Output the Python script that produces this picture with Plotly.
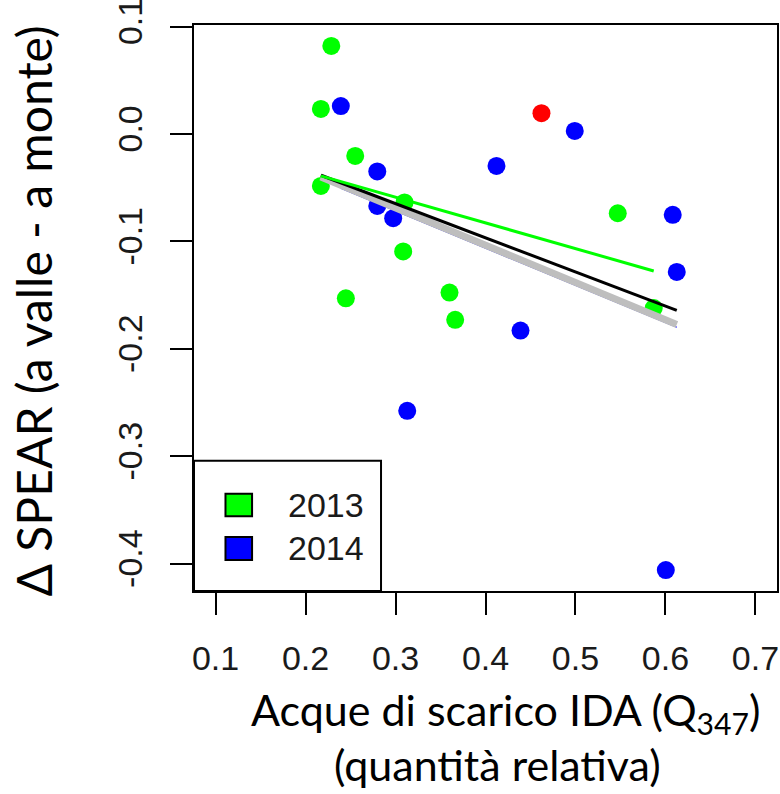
import numpy as np
import plotly.graph_objects as go

# ---- data ----
x_2013 = [0.2286, 0.217, 0.2552, 0.217, 0.2448, 0.310, 0.3085, 0.360, 0.3663, 0.547, 0.587]
y_2013 = [0.0819, 0.0233, -0.0205, -0.0484, -0.153, -0.0637, -0.1093, -0.1476, -0.173, -0.0738, -0.1621]
x_2014 = [0.2392, 0.2797, 0.2797, 0.2974, 0.4122, 0.4992, 0.6081, 0.6126, 0.4389, 0.313, 0.6004]
y_2014 = [0.026, -0.0349, -0.067, -0.0784, -0.0298, 0.0028, -0.0753, -0.1284, -0.183, -0.2577, -0.4059]
x_red = [0.4622]
y_red = [0.0193]

x_ticks = [0.1, 0.2, 0.3, 0.4, 0.5, 0.6, 0.7]
x_labels = ["0.1", "0.2", "0.3", "0.4", "0.5", "0.6", "0.7"]
y_ticks = [-0.4, -0.3, -0.2, -0.1, 0.0, 0.1]
y_labels = ["-0.4", "-0.3", "-0.2", "-0.1", "0.0", "0.1"]
legend_years = ["2013", "2014"]

GREEN, BLUE, RED, GRAY = "#00FF00", "#0000FF", "#FF0000", "#BEBEBE"
TICKFONT = "Liberation Sans, Arial, Helvetica, sans-serif"
TITLEFONT = "Lato, Carlito, Calibri, sans-serif"


def fit_line(xs, ys):
    xs = np.asarray(xs, float)
    ys = np.asarray(ys, float)
    b, a = np.polyfit(xs, ys, 1)
    xr = np.array([xs.min(), xs.max()])
    return xr, a + b * xr


fig = go.Figure()
marker = dict(size=18, line=dict(width=0))
fig.add_trace(go.Scatter(x=x_2013, y=y_2013, mode="markers", marker=dict(color=GREEN, **marker)))
fig.add_trace(go.Scatter(x=x_2014, y=y_2014, mode="markers", marker=dict(color=BLUE, **marker)))
fig.add_trace(go.Scatter(x=x_red, y=y_red, mode="markers", marker=dict(color=RED, **marker)))

# regression lines
bx, by = fit_line(x_2014, y_2014)
fig.add_trace(go.Scatter(x=bx, y=by, mode="lines", line=dict(color=BLUE, width=1.2)))
gx, gy = fit_line(x_2013 + x_2014, y_2013 + y_2014)
fig.add_trace(go.Scatter(x=gx, y=gy, mode="lines", line=dict(color=GRAY, width=7)))
kx, ky = fit_line(x_2013 + x_2014 + x_red, y_2013 + y_2014 + y_red)
fig.add_trace(go.Scatter(x=kx, y=ky, mode="lines", line=dict(color="black", width=3)))
ex, ey = fit_line(x_2013 + x_red, y_2013 + y_red)
fig.add_trace(go.Scatter(x=ex, y=ey, mode="lines", line=dict(color=GREEN, width=3)))

# R-style axis ranges (4% extension)
all_y = y_2013 + y_2014 + y_red
ymin, ymax = min(all_y), max(all_y)
pad = 0.04 * (ymax - ymin)
xlo, xhi = 0.1, 0.7
xpad = 0.04 * (xhi - xlo)

axis_common = dict(
    showline=True, linewidth=2, linecolor="black", mirror=True,
    ticks="outside", ticklen=22, tickwidth=2, tickcolor="black",
    showgrid=False, zeroline=False, ticklabeloverflow="allow", automargin=False,
    tickfont=dict(family=TICKFONT, size=34, color="#1a1a1a"),
)
fig.update_xaxes(range=[xlo - xpad, xhi + xpad], tickvals=x_ticks, ticktext=x_labels,
                 ticklabelstandoff=14, **axis_common)
fig.update_yaxes(range=[ymin - pad, ymax + pad], tickvals=y_ticks, ticktext=y_labels,
                 tickangle=-90, ticklabelstandoff=14, **axis_common)

# legend box (R-style)
shapes = [dict(type="rect", xref="x domain", yref="y domain", x0=0, x1=0.3208, y0=0, y1=0.2302,
               line=dict(color="black", width=2), fillcolor="white", layer="above")]
sq_y = [(0.1319, 0.1720), (0.0548, 0.0954)]
for (y0, y1), col in zip(sq_y, [GREEN, BLUE]):
    shapes.append(dict(type="rect", xref="x domain", yref="y domain", x0=0.0540, x1=0.0996,
                       y0=y0, y1=y1, line=dict(color="black", width=2), fillcolor=col, layer="above"))

annotations = []
for (y0, y1), txt in zip(sq_y, legend_years):
    annotations.append(dict(text=txt, xref="x domain", yref="y domain", x=0.158, y=(y0 + y1) / 2,
                            xanchor="left", yanchor="middle", showarrow=False,
                            font=dict(family=TICKFONT, size=34, color="#1a1a1a")))

annotations.append(dict(text="Δ SPEAR (a valle - a monte)", xref="paper", yref="paper",
                        x=-0.275, y=0.495, xanchor="center", yanchor="middle", textangle=-90,
                        showarrow=False, font=dict(family=TITLEFONT, size=48, color="black")))
annotations.append(dict(text="Acque di scarico IDA (Q<sub>347</sub>)", xref="paper", yref="paper",
                        x=0.535, y=-0.2138, xanchor="center", yanchor="middle",
                        showarrow=False, font=dict(family=TITLEFONT, size=43, color="black")))
annotations.append(dict(text="(quantità relativa)", xref="paper", yref="paper",
                        x=0.52, y=-0.3057, xanchor="center", yanchor="middle",
                        showarrow=False, font=dict(family=TITLEFONT, size=43, color="black")))

fig.update_layout(
    width=780, height=794,
    margin=dict(l=194, r=3, t=25, b=203),
    paper_bgcolor="white", plot_bgcolor="white",
    showlegend=False, shapes=shapes, annotations=annotations,
)

fig.write_html("out.html")
